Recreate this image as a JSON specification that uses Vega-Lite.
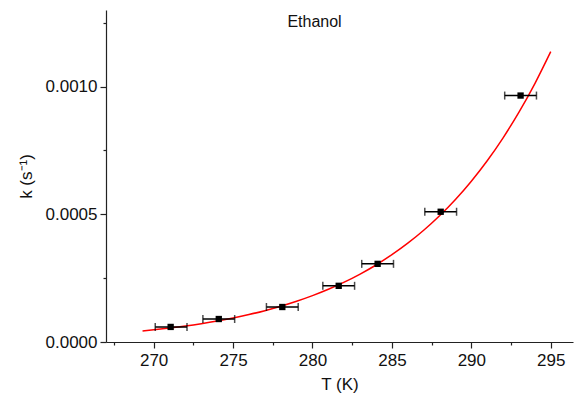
{
  "$schema": "https://vega.github.io/schema/vega-lite/v6.json",
  "autosize": "none",
  "width": 467,
  "height": 332,
  "padding": {"left": 106, "top": 10, "right": 1, "bottom": 60},
  "background": "white",
  "config": {
    "view": {"stroke": null},
    "font": "Liberation Sans",
    "axis": {"grid": false, "domainColor": "#222", "tickColor": "#222", "labelColor": "#111", "titleColor": "#111", "labelFont": "Liberation Sans", "titleFont": "Liberation Sans", "titleFontWeight": "normal", "domainWidth": 1.2, "tickWidth": 1.2}
  },
  "title": {"text": "Ethanol", "anchor": "middle", "frame": "group", "fontSize": 16, "fontWeight": "normal", "font": "Liberation Sans", "color": "#111", "dx": -25, "dy": 24},
  "datasets": {
    "pts": [
      {"T": 271.07, "k": 0.000059, "Tlo": 270.1, "Thi": 272.1},
      {"T": 274.1, "k": 0.000090, "Tlo": 273.1, "Thi": 275.1},
      {"T": 278.1, "k": 0.000137, "Tlo": 277.1, "Thi": 279.1},
      {"T": 281.65, "k": 0.000220, "Tlo": 280.65, "Thi": 282.65},
      {"T": 284.1, "k": 0.000306, "Tlo": 283.1, "Thi": 285.1},
      {"T": 288.07, "k": 0.000510, "Tlo": 287.07, "Thi": 289.07},
      {"T": 293.1, "k": 0.000965, "Tlo": 292.1, "Thi": 294.1}
    ],
    "fit": [
      {"T": 269.3, "k": 0.0000430},
      {"T": 270, "k": 0.0000476},
      {"T": 271, "k": 0.0000547},
      {"T": 272, "k": 0.0000627},
      {"T": 273, "k": 0.0000719},
      {"T": 274, "k": 0.0000823},
      {"T": 275, "k": 0.0000941},
      {"T": 276, "k": 0.0001075},
      {"T": 277, "k": 0.0001227},
      {"T": 278, "k": 0.0001399},
      {"T": 279, "k": 0.0001594},
      {"T": 280, "k": 0.0001814},
      {"T": 281, "k": 0.0002063},
      {"T": 282, "k": 0.0002343},
      {"T": 283, "k": 0.0002659},
      {"T": 284, "k": 0.0003015},
      {"T": 285, "k": 0.0003417},
      {"T": 286, "k": 0.0003868},
      {"T": 287, "k": 0.0004375},
      {"T": 288, "k": 0.0004944},
      {"T": 289, "k": 0.0005582},
      {"T": 290, "k": 0.0006298},
      {"T": 291, "k": 0.0007099},
      {"T": 292, "k": 0.0007996},
      {"T": 293, "k": 0.0008999},
      {"T": 294, "k": 0.0010120},
      {"T": 295, "k": 0.0011370}
    ]
  },
  "layer": [
    {
      "data": {"name": "fit"},
      "mark": {"type": "line", "color": "#ff0000", "strokeWidth": 1.5, "interpolate": "monotone"},
      "encoding": {
        "x": {"field": "T", "type": "quantitative", "scale": {"domain": [267, 296.4], "nice": false, "zero": false},
          "axis": {"values": [270, 275, 280, 285, 290, 295], "title": "T (K)", "labelFontSize": 17, "titleFontSize": 17, "tickSize": 6, "labelPadding": 4, "titlePadding": 8, "orient": "bottom"}},
        "y": {"field": "k", "type": "quantitative", "scale": {"domain": [0, 0.0013], "nice": false},
          "axis": {"values": [0, 0.0005, 0.001], "format": ".4f", "title": "k (s⁻¹)", "labelFontSize": 17, "titleFontSize": 17, "tickSize": 6, "labelPadding": 3, "titlePadding": 10, "orient": "left"}}
      }
    },
    {
      "data": {"name": "pts"},
      "mark": {"type": "rule", "color": "#000", "strokeWidth": 1.5},
      "encoding": {
        "x": {"field": "Tlo", "type": "quantitative",
          "axis": {"values": [267.5, 272.5, 277.5, 282.5, 287.5, 292.5], "labels": false, "domain": false, "title": null, "tickSize": 3, "orient": "bottom"}},
        "x2": {"field": "Thi"},
        "y": {"field": "k", "type": "quantitative",
          "axis": {"values": [0.00025, 0.00075, 0.00125], "labels": false, "domain": false, "title": null, "tickSize": 3, "orient": "left"}}
      }
    },
    {
      "data": {"name": "pts"},
      "mark": {"type": "tick", "orient": "vertical", "color": "#000", "size": 8, "thickness": 1.5},
      "encoding": {
        "x": {"field": "Tlo", "type": "quantitative", "axis": null},
        "y": {"field": "k", "type": "quantitative", "axis": null}
      }
    },
    {
      "data": {"name": "pts"},
      "mark": {"type": "tick", "orient": "vertical", "color": "#000", "size": 8, "thickness": 1.5},
      "encoding": {
        "x": {"field": "Thi", "type": "quantitative", "axis": null},
        "y": {"field": "k", "type": "quantitative", "axis": null}
      }
    },
    {
      "data": {"name": "pts"},
      "mark": {"type": "point", "shape": "square", "filled": true, "color": "#000", "opacity": 1, "size": 40},
      "encoding": {
        "x": {"field": "T", "type": "quantitative", "axis": null},
        "y": {"field": "k", "type": "quantitative", "axis": null}
      }
    }
  ],
  "resolve": {"axis": {"x": "independent", "y": "independent"}}
}
